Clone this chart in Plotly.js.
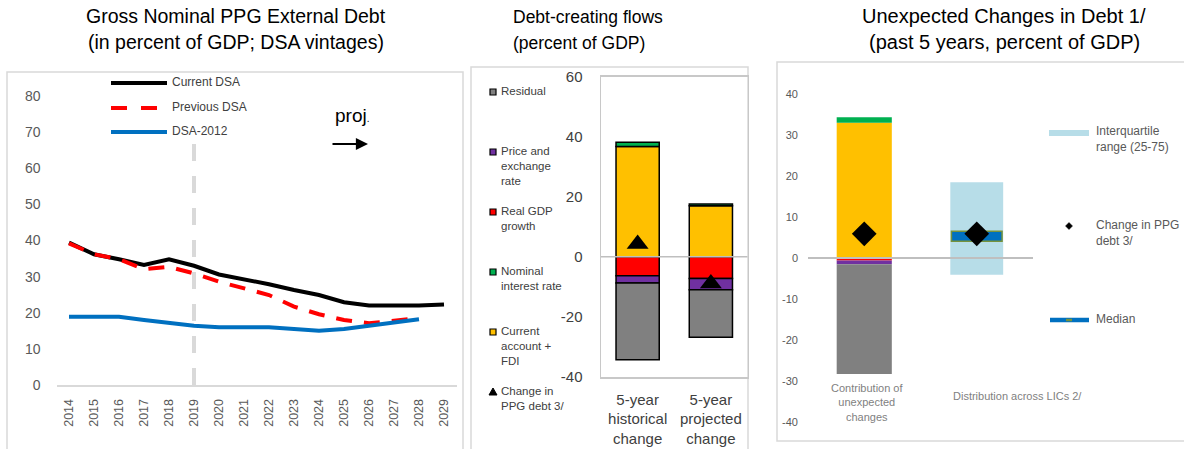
<!DOCTYPE html>
<html><head><meta charset="utf-8">
<script src="https://cdn.plot.ly/plotly-3.0.1.min.js"></script>
<style>html,body{margin:0;padding:0;background:#fff;}#chart{width:1184px;height:449px;}</style>
</head><body><div id="chart"></div>
<script>
// ---------- Panel 1: Gross Nominal PPG External Debt ----------
const years = [2014,2015,2016,2017,2018,2019,2020,2021,2022,2023,2024,2025,2026,2027,2028,2029];
const currentDSA  = [39.4,36.2,34.8,33.2,34.8,33.0,30.6,29.3,27.9,26.3,24.9,22.9,22.0,22.0,22.0,22.3];
const previousDSA = [39.2,36.2,34.8,32.1,32.7,30.9,28.6,26.8,24.9,21.7,19.6,18.0,17.1,17.8,18.6,null];
const dsa2012     = [18.9,18.9,18.9,18.0,17.2,16.4,16.0,16.0,16.0,15.5,15.0,15.5,16.4,17.2,18.2,null];
const lineNames = ["Current DSA","Previous DSA","DSA-2012"];
const projStart = 2019;
const projLineTop = 67;
const p1Ticks = [0,10,20,30,40,50,60,70,80];

// ---------- Panel 2: Debt-creating flows ----------
const flowCats = ["5-year historical change","5-year projected change"];
const flowTickText = ["5-year<br>historical<br>change","5-year<br>projected<br>change"];
const flowCurrentAcc = [36.7,17.0];
const flowNominalInt = [1.4,0.6];
const flowRealGDP    = [-6.3,-7.2];
const flowPriceExch  = [-2.4,-3.8];
const flowResidual   = [-25.6,-15.8];
const flowChangePPG  = [4.3,-8.9];
const p2Ticks = [-40,-20,0,20,40,60];
const flowLegend = ["Residual","Price and<br>exchange<br>rate","Real GDP<br>growth","Nominal<br>interest rate","Current<br>account +<br>FDI","Change in<br>PPG debt 3/"];

// ---------- Panel 3: Unexpected Changes in Debt ----------
const unexpCats = ["Contribution of unexpected changes","Distribution across LICs 2/"];
const unexpTickText = ["Contribution of<br>unexpected<br>changes","Distribution across LICs 2/"];
const unexpCurrentAcc = [33.0,null];
const unexpNominalInt = [1.3,null];
const unexpRealGDP    = [-0.6,null];
const unexpPriceExch  = [-0.9,null];
const unexpResidual   = [-26.8,null];
const unexpChangePPG  = [5.9,5.9];
const licIQR = [-4.1,18.5];
const licMedian = 5.3;
const p3Ticks = [-40,-30,-20,-10,0,10,20,30,40];
const p3Legend = ["Interquartile<br>range (25-75)","Change in PPG<br>debt 3/","Median"];

// ---------- helpers ----------
const W = 1184, H = 449;
const X = p => p / W;
const Y = p => 1 - p / H;
const FONT = "Liberation Sans, Arial, sans-serif";
const C = {res:"#808080", price:"#7030a0", gdp:"#ff0000", nom:"#00b050", ca:"#ffc000", blue:"#0070c0", iqr:"#b7dde8", olive:"#76923c"};

function txt(text, xpx, ypxFirst, size, color, anchor) {
  const lh = size * 1.3;
  return {text:text, xref:"paper", yref:"paper", x:X(xpx), y:Y(ypxFirst - lh/2 - 2),
    xanchor: anchor || "left", yanchor:"top", showarrow:false, align: anchor==="center"?"center":"left",
    font:{family:FONT, size:size, color:color}};
}

const traces = [];
// Panel 1 lines
traces.push({x:years, y:currentDSA, name:lineNames[0], type:"scatter", mode:"lines", xaxis:"x", yaxis:"y",
  line:{color:"#000000", width:4}, showlegend:false});
traces.push({x:years, y:previousDSA, name:lineNames[1], type:"scatter", mode:"lines", xaxis:"x", yaxis:"y",
  line:{color:"#ff0000", width:4, dash:"16px,12px"}, showlegend:false});
traces.push({x:years, y:dsa2012, name:lineNames[2], type:"scatter", mode:"lines", xaxis:"x", yaxis:"y",
  line:{color:C.blue, width:4}, showlegend:false});

// Panel 2 stacked bars
const barLine = {color:"#000000", width:1.5};
[[flowCurrentAcc,C.ca,"Current account + FDI"],[flowNominalInt,C.nom,"Nominal interest rate"],
 [flowRealGDP,C.gdp,"Real GDP growth"],[flowPriceExch,C.price,"Price and exchange rate"],
 [flowResidual,C.res,"Residual"]].forEach(([vals,col,nm])=>{
  traces.push({type:"bar", x:flowCats, y:vals, name:nm, xaxis:"x2", yaxis:"y2", width:0.59,
    marker:{color:col, line:barLine}, showlegend:false});
});
traces.push({type:"scatter", mode:"markers", x:flowCats, y:flowChangePPG, name:"Change in PPG debt 3/",
  xaxis:"x2", yaxis:"y2", marker:{symbol:"triangle-up", size:19, color:"#000"}, showlegend:false});

// Panel 3 stacked bars
[[unexpCurrentAcc,C.ca],[unexpNominalInt,C.nom],[unexpRealGDP,C.gdp],[unexpPriceExch,C.price],[unexpResidual,C.res]]
 .forEach(([vals,col])=>{
  traces.push({type:"bar", x:unexpCats, y:vals, xaxis:"x3", yaxis:"y3", width:0.49,
    marker:{color:col, line:{width:0}}, showlegend:false});
});
// IQR box
traces.push({type:"bar", x:[unexpCats[1]], y:[licIQR[1]-licIQR[0]], base:[licIQR[0]], xaxis:"x3", yaxis:"y3",
  width:0.47, marker:{color:C.iqr, line:{width:0}}, showlegend:false, name:"Interquartile range (25-75)"});
// Median
const medHalf = 1.2;
traces.push({type:"bar", x:[unexpCats[1]], y:[2*medHalf], base:[licMedian-medHalf], xaxis:"x3", yaxis:"y3",
  width:0.45, marker:{color:C.blue, line:{color:C.olive, width:1.5}}, showlegend:false, name:"Median"});
traces.push({type:"scatter", mode:"markers", x:unexpCats, y:unexpChangePPG, xaxis:"x3", yaxis:"y3",
  marker:{symbol:"diamond", size:19, color:"#000"}, showlegend:false, name:"Change in PPG debt 3/"});

const shapes = [];
const frame = (x0,y0,x1,y1)=>({type:"rect", xref:"paper", yref:"paper", x0:X(x0), x1:X(x1), y0:Y(y1), y1:Y(y0),
  line:{color:"#d9d9d9", width:1.5}, fillcolor:"rgba(0,0,0,0)", layer:"below"});
shapes.push(frame(7,72,463,460));
shapes.push(frame(471,67,748,460));
shapes.push(frame(777,62,1200,441));
// projection divider
shapes.push({type:"line", xref:"x", yref:"y", x0:projStart, x1:projStart, y0:0, y1:projLineTop,
  line:{color:"#d9d9d9", width:4, dash:"17px,15px"}, layer:"below"});
// zero lines
shapes.push({type:"line", xref:"x2 domain", yref:"y2", x0:0, x1:1, y0:0, y1:0, line:{color:"#bfbfbf", width:1.5}, layer:"above"});
shapes.push({type:"line", xref:"x3 domain", yref:"y3", x0:0, x1:1, y0:0, y1:0, line:{color:"#bfbfbf", width:2}, layer:"above"});

// Panel 1 legend
const p1Leg = [["#000000","solid"],["#ff0000","16px,14px"],[C.blue,"solid"]];
const p1LegY = [83,108,132];
p1Leg.forEach((s,i)=>{
  shapes.push({type:"line", xref:"paper", yref:"paper", x0:X(111), x1:X(167), y0:Y(p1LegY[i]), y1:Y(p1LegY[i]),
    line:{color:s[0], width:4, dash:s[1]}});
});
// Panel 2 legend symbols
const p2LegY = [92,152,212,272,332,392];
const p2LegCol = [C.res,C.price,C.gdp,C.nom,C.ca];
p2LegCol.forEach((col,i)=>{
  shapes.push({type:"rect", xref:"paper", yref:"paper", x0:X(490), x1:X(496), y0:Y(p2LegY[i]+3), y1:Y(p2LegY[i]-3),
    fillcolor:col, line:{color:"#000", width:1.2}});
});
shapes.push({type:"path", xref:"paper", yref:"paper",
  path:`M ${X(489)},${Y(p2LegY[5]+3)} L ${X(497)},${Y(p2LegY[5]+3)} L ${X(493)},${Y(p2LegY[5]-4)} Z`,
  fillcolor:"#000", line:{color:"#000", width:1}});
// Panel 3 legend symbols
shapes.push({type:"rect", xref:"paper", yref:"paper", x0:X(1049), x1:X(1089), y0:Y(136), y1:Y(130), fillcolor:C.iqr, line:{width:0}});
shapes.push({type:"path", xref:"paper", yref:"paper",
  path:`M ${X(1065.5)},${Y(226)} L ${X(1069)},${Y(222.5)} L ${X(1072.5)},${Y(226)} L ${X(1069)},${Y(229.5)} Z`,
  fillcolor:"#000", line:{color:"#000", width:0.5}});
shapes.push({type:"line", xref:"paper", yref:"paper", x0:X(1050), x1:X(1089), y0:Y(320), y1:Y(320), line:{color:C.blue, width:4.5}});
shapes.push({type:"line", xref:"paper", yref:"paper", x0:X(1066), x1:X(1072), y0:Y(320), y1:Y(320), line:{color:C.olive, width:2.5}});

const annotations = [];
// Titles
annotations.push(txt("Gross Nominal PPG External Debt", 236, 18, 19.5, "#000", "center"));
annotations.push(txt("(in percent of GDP; DSA vintages)", 236, 44, 19.5, "#000", "center"));
annotations.push(txt("Debt-creating flows", 511, 18, 17.5, "#000"));
annotations.push(txt("(percent of GDP)", 511, 44, 17.5, "#000"));
annotations.push(txt("Unexpected Changes in Debt 1/", 1004, 18, 20, "#000", "center"));
annotations.push(txt("(past 5 years, percent of GDP)", 1004, 44, 20, "#000", "center"));
// Panel 1 legend text
lineNames.forEach((n,i)=>annotations.push(txt(n, 170, p1LegY[i], 12, "#404040")));
annotations.push(txt("proj<span style='font-size:10px'>.</span>", 333, 117, 19, "#000"));
annotations.push({x:X(368), y:Y(144), xref:"paper", yref:"paper", ax:-37, ay:0, text:"", showarrow:true,
  arrowhead:2, arrowsize:1.1, arrowwidth:2.2, arrowcolor:"#000"});
// Panel 2 legend text
flowLegend.forEach((n,i)=>annotations.push(txt(n, 499, p2LegY[i], 11.5, "#404040")));
// Panel 3 legend text
[[p3Legend[0],132],[p3Legend[1],226],[p3Legend[2],320]].forEach(([n,y])=>annotations.push(txt(n, 1094, y, 12, "#595959")));
// Panel 3 category labels
annotations.push({text:unexpTickText[0], xref:"x3", yref:"paper", x:unexpCats[0], xshift:3, y:Y(389-9.2), yanchor:"top",
  xanchor:"center", showarrow:false, font:{family:FONT, size:11, color:"#7f7f7f"}});
annotations.push({text:unexpTickText[1], xref:"x3", yref:"paper", x:unexpCats[1], xshift:41, y:Y(397-9.2), yanchor:"top",
  xanchor:"center", showarrow:false, font:{family:FONT, size:11, color:"#7f7f7f"}});

const hy = v => String(v);
const layout = {
  width:W, height:H, margin:{l:0,r:0,t:0,b:0}, paper_bgcolor:"#fff", plot_bgcolor:"rgba(0,0,0,0)",
  barmode:"relative", showlegend:false, font:{family:FONT},
  xaxis:{domain:[X(56.5),X(456.5)], range:[2013.5,2029.5], tickvals:years, ticktext:years.map(String), tickangle:-90,
    showline:true, linecolor:"#d9d9d9", linewidth:2, showgrid:false, zeroline:false, ticks:"",
    tickfont:{family:FONT, size:12.5, color:"#595959"}, ticklabelstandoff:7, anchor:"y", fixedrange:true},
  yaxis:{domain:[Y(385),Y(96)], range:[0,80], tickvals:p1Ticks, ticktext:p1Ticks.map(hy), showgrid:false, zeroline:false,
    showline:false, ticks:"", tickfont:{family:FONT, size:14, color:"#595959"}, ticklabelstandoff:15, anchor:"x"},
  xaxis2:{domain:[X(601),X(747.5)], type:"category", range:[-0.5,1.5], categoryorder:"array", categoryarray:flowCats, tickvals:flowCats, ticktext:flowTickText,
    showline:true, mirror:true, linecolor:"#c8c8c8", linewidth:1.5, showgrid:false, zeroline:false, ticks:"",
    tickfont:{family:FONT, size:15, color:"#404040"}, ticklabelstandoff:8, anchor:"y2"},
  yaxis2:{domain:[Y(377),Y(76.5)], range:[-40,60], tickvals:p2Ticks, ticktext:p2Ticks.map(hy), showgrid:false, zeroline:false,
    showline:true, mirror:true, linecolor:"#c8c8c8", linewidth:1.5, ticks:"",
    tickfont:{family:FONT, size:15, color:"#404040"}, ticklabelstandoff:14, anchor:"x2"},
  xaxis3:{domain:[X(808),X(1033)], type:"category", range:[-0.5,1.5], categoryorder:"array", categoryarray:unexpCats, showticklabels:false,
    showline:false, showgrid:false, zeroline:false, ticks:"", anchor:"y3"},
  yaxis3:{domain:[Y(422),Y(94)], range:[-40,40], tickvals:p3Ticks, ticktext:p3Ticks.map(hy), showgrid:false, zeroline:false,
    showline:false, ticks:"", tickfont:{family:FONT, size:11, color:"#595959"}, ticklabelstandoff:9, anchor:"x3"},
  shapes:shapes, annotations:annotations
};
Plotly.newPlot("chart", traces, layout, {displayModeBar:false, staticPlot:true});
</script></body></html>
